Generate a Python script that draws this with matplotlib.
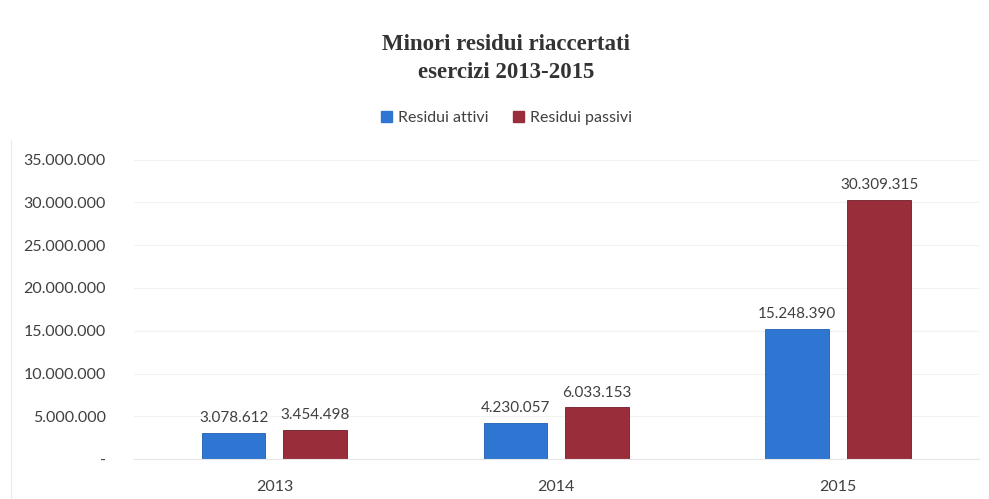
import matplotlib.pyplot as plt
import numpy as np
from matplotlib.lines import Line2D

# dati
anni = ['2013', '2014', '2015']
residui_attivi = [3078612, 4230057, 15248390]
residui_passivi = [3454498, 6033153, 30309315]
tick_valori = [0, 5000000, 10000000, 15000000, 20000000, 25000000, 30000000, 35000000]

col_attivi = '#2E76D1'
col_passivi = '#992D3A'
col_testo = '#404040'


def fmt_it(v):
    if v == 0:
        return '-'
    return f'{v:,.0f}'.replace(',', '.')


plt.rcParams['font.family'] = ['Lato', 'DejaVu Sans']

fig = plt.figure(figsize=(9.89, 4.99), dpi=100)
ax = fig.add_axes([0.135, 0.08, 0.855, 0.6]) 

x = np.arange(len(anni))
w = 0.226
off = 0.145
b1 = ax.bar(x - off, residui_attivi, w, color=col_attivi, edgecolor='#1f5fae', linewidth=0.6)
b2 = ax.bar(x + off, residui_passivi, w, color=col_passivi, edgecolor='#6e1d27', linewidth=0.6)

for bars, vals in ((b1, residui_attivi), (b2, residui_passivi)):
    for r, v in zip(bars, vals):
        ax.text(r.get_x() + r.get_width() / 2, v + 900000, fmt_it(v),
                ha='center', va='bottom', fontsize=11, color=col_testo)

ax.set_xlim(-0.5, 2.5)
ax.set_ylim(0, 35000000)
ax.set_yticks(tick_valori)
ax.set_yticklabels([fmt_it(v) for v in tick_valori], fontsize=11.5, color=col_testo)
ax.set_xticks(x)
ax.set_xticklabels(anni, fontsize=11.5, color=col_testo)
ax.tick_params(length=0)
ax.tick_params(axis='y', pad=20)
ax.tick_params(axis='x', pad=15)
ax.grid(axis='y', color='#f2f2f2', linewidth=0.8)
ax.set_axisbelow(True)
for s in ['top', 'right', 'left']:
    ax.spines[s].set_visible(False)
ax.spines['bottom'].set_color('#e6e6e6')

fig.text(0.512, 0.882, 'Minori residui riaccertati\nesercizi 2013-2015', ha='center', va='center',
         fontsize=16.5, fontweight='bold', family='Liberation Serif', color='#333333',
         linespacing=1.45)

handles = [plt.Rectangle((0, 0), 1, 1, color=col_attivi),
           plt.Rectangle((0, 0), 1, 1, color=col_passivi)]
fig.legend(handles, ['Residui attivi', 'Residui passivi'], loc='center',
           bbox_to_anchor=(0.512, 0.763), ncol=2, frameon=False, fontsize=11.5,
           labelcolor=col_testo, handlelength=0.7, handleheight=0.7,
           handletextpad=0.4, columnspacing=1.5)

# linea verticale sul bordo sinistro
fig.add_artist(Line2D([0.011, 0.011], [0.0, 0.72], color='#ececec', linewidth=0.8))

fig.savefig('out.png', dpi=100, facecolor='white')
